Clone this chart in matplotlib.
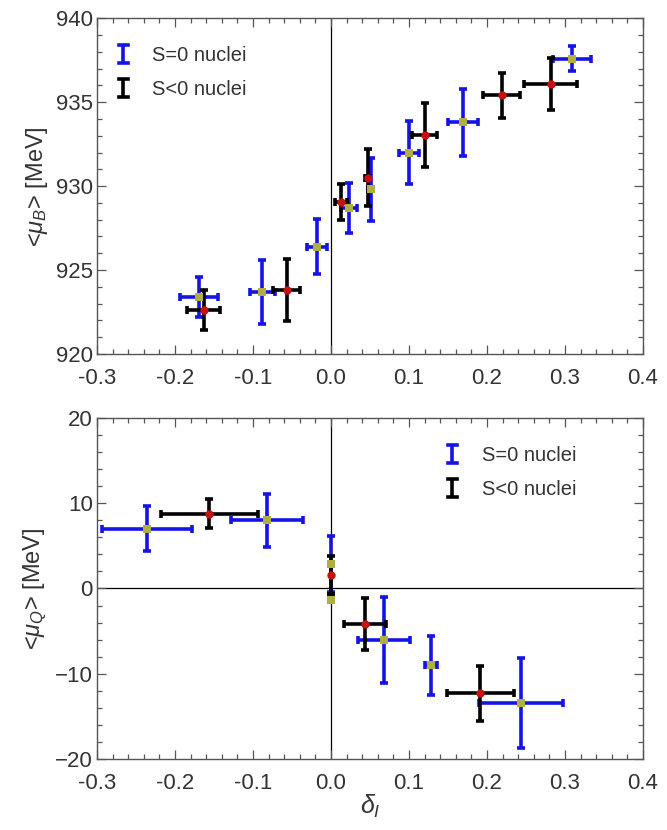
import matplotlib
matplotlib.use("Agg")
import matplotlib.pyplot as plt
from matplotlib.ticker import MultipleLocator, FormatStrFormatter
from matplotlib.legend_handler import HandlerBase
from matplotlib.lines import Line2D

plt.rcParams['font.family'] = ['Liberation Sans', 'DejaVu Sans']
plt.rcParams['mathtext.fontset'] = 'custom'
plt.rcParams['mathtext.rm'] = 'Liberation Sans'
plt.rcParams['mathtext.it'] = 'Liberation Sans:italic'

# ---- top panel: <mu_B> ----
top_s0_x = [-0.169, -0.088, -0.018, 0.023, 0.051, 0.100, 0.169, 0.3085]
top_s0_y = [923.4, 923.7, 926.4, 928.7, 929.8, 932.0, 933.8, 937.6]
top_s0_yerr = [1.2, 1.9, 1.65, 1.5, 1.9, 1.9, 2.0, 0.72]
top_s0_xerr = [0.024, 0.016, 0.013, 0.010, 0.003, 0.013, 0.019, 0.0245]

top_sn_x = [-0.163, -0.057, 0.013, 0.047, 0.120, 0.219, 0.282]
top_sn_y = [922.6, 923.8, 929.05, 930.5, 933.05, 935.4, 936.1]
top_sn_yerr = [1.2, 1.85, 1.07, 1.7, 1.9, 1.35, 1.55]
top_sn_xerr = [0.021, 0.017, 0.008, 0.003, 0.016, 0.0235, 0.034]

# ---- bottom panel: <mu_Q> ----
bot_s0_x = [-0.236, -0.0825, 0.0, 0.0, 0.068, 0.128, 0.2436]
bot_s0_y = [7.0, 8.0, 2.85, -1.3, -6.0, -9.0, -13.4]
bot_s0_yerr = [2.65, 3.1, 3.3, 0.3, 5.05, 3.45, 5.3]
bot_s0_xerr = [0.058, 0.046, 0.0, 0.0, 0.033, 0.0075, 0.054]

bot_sn_x = [-0.156, 0.0, 0.0436, 0.1914]
bot_sn_y = [8.75, 1.55, -4.15, -12.3]
bot_sn_yerr = [1.7, 2.25, 3.05, 3.2]
bot_sn_xerr = [0.062, 0.0, 0.027, 0.043]

labels = ['S=0 nuclei', 'S<0 nuclei']
x_ticks = [-0.3, -0.2, -0.1, 0.0, 0.1, 0.2, 0.3, 0.4]
top_yticks = [920, 925, 930, 935, 940]
bot_yticks = [-20, -10, 0, 10, 20]

BLUE = '#1414e6'
BLACK = '#000000'
OLIVE = '#b0b040'
RED = '#c81010'
FRAME = '#555555'
TEXT = '#333333'

fig = plt.figure(figsize=(6.67, 8.30), dpi=100)
ax1 = fig.add_axes([0.1454, 0.5735, 0.8186, 0.4045])
ax2 = fig.add_axes([0.1454, 0.0855, 0.8186, 0.4110])

eb_kw = dict(fmt='none', elinewidth=2.6, capsize=3.2, capthick=2.6)


class VBarHandler(HandlerBase):
    """Legend icon: a vertical error bar with caps."""

    def create_artists(self, legend, orig_handle, xdescent, ydescent,
                       width, height, fontsize, trans):
        color = orig_handle.get_color()
        cx = width / 2 - xdescent
        cy = height / 2 - ydescent
        half = 0.45 * fontsize
        cap = 0.22 * fontsize
        v = Line2D([cx, cx], [cy - half, cy + half], color=color, lw=2.6,
                   solid_capstyle='butt')
        c1 = Line2D([cx - cap, cx + cap], [cy - half, cy - half], color=color, lw=2.6)
        c2 = Line2D([cx - cap, cx + cap], [cy + half, cy + half], color=color, lw=2.6)
        arts = [v, c1, c2]
        for a in arts:
            a.set_transform(trans)
        return arts


def draw(ax, s0, sn, ylim, yticks, yminor, ylabel, legend_anchor):
    (x0, y0, ye0, xe0) = s0
    (x1, y1, ye1, xe1) = sn
    ax.errorbar(x0, y0, yerr=ye0, xerr=xe0, ecolor=BLUE, zorder=3, **eb_kw)
    ax.errorbar(x1, y1, yerr=ye1, xerr=xe1, ecolor=BLACK, zorder=4, **eb_kw)
    ax.plot(x0, y0, 's', color=OLIVE, ms=5.5, mew=0, zorder=5, linestyle='none')
    ax.plot(x1, y1, 'o', color=RED, ms=6, mew=0, zorder=6, linestyle='none')
    ax.axvline(0, color='black', lw=0.9, zorder=1)
    if ylim[0] < 0 < ylim[1]:
        ax.axhline(0, color='black', lw=0.9, zorder=1)
    ax.set_xlim(-0.3, 0.4)
    ax.set_ylim(*ylim)
    ax.set_xticks(x_ticks)
    ax.set_yticks(yticks)
    ax.xaxis.set_minor_locator(MultipleLocator(0.02))
    ax.yaxis.set_minor_locator(MultipleLocator(yminor))
    ax.tick_params(which='both', direction='in', top=True, right=True,
                   color=FRAME, labelsize=16, labelcolor=TEXT, width=0.9)
    ax.tick_params(which='major', length=6.5)
    ax.tick_params(which='minor', length=3.5)
    ax.tick_params(axis='x', which='major', pad=10)
    ax.tick_params(axis='y', which='major', pad=3)
    for sp in ax.spines.values():
        sp.set_color(FRAME)
        sp.set_linewidth(1.0)
    ax.xaxis.set_major_formatter(FormatStrFormatter('%.1f'))
    ax.set_ylabel(ylabel, fontsize=17, color=TEXT, labelpad=4)
    h0 = Line2D([], [], color=BLUE)
    h1 = Line2D([], [], color=BLACK)
    leg = ax.legend([h0, h1], labels, loc='upper left', bbox_to_anchor=legend_anchor,
                    frameon=False, fontsize=14.5, handlelength=0.8, handletextpad=1.05,
                    labelspacing=0.72,
                    handler_map={h0: VBarHandler(), h1: VBarHandler()})
    for t in leg.get_texts():
        t.set_color(TEXT)


draw(ax1, (top_s0_x, top_s0_y, top_s0_yerr, top_s0_xerr),
     (top_sn_x, top_sn_y, top_sn_yerr, top_sn_xerr),
     (920, 940), top_yticks, 1, r'<$\mu_B$> [MeV]', (0.0, 0.97))
draw(ax2, (bot_s0_x, bot_s0_y, bot_s0_yerr, bot_s0_xerr),
     (bot_sn_x, bot_sn_y, bot_sn_yerr, bot_sn_xerr),
     (-20, 20), bot_yticks, 2, r'<$\mu_Q$> [MeV]', (0.603, 0.97))
ax2.set_xlabel(r'$\delta_I$', fontsize=18, color=TEXT, labelpad=-1)

fig.savefig('out.png', dpi=100)
